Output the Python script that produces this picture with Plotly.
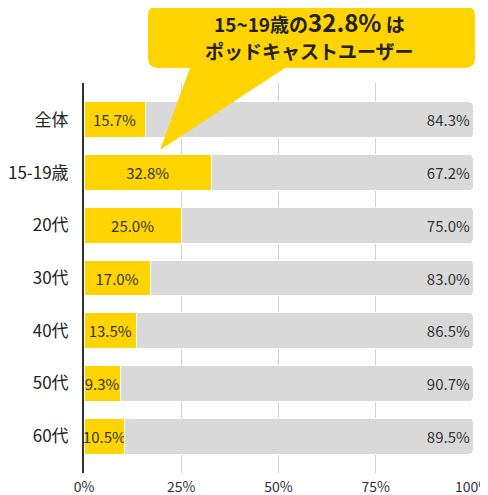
import plotly.graph_objects as go

categories = ["全体", "15-19歳", "20代", "30代", "40代", "50代", "60代"]
users = [15.7, 32.8, 25.0, 17.0, 13.5, 9.3, 10.5]
non_users = [84.3, 67.2, 75.0, 83.0, 86.5, 90.7, 89.5]
tick_vals = [0, 25, 50, 75, 100]
tick_text = ["0%", "25%", "50%", "75%", "100%"]

# the page puts the figure 8px in from the top-left corner
OFF = 8
W, H = 488 - OFF, 495 - OFF
L, R, T, B = 84 - OFF, 15, 83 - OFF, 22
PW, PH = W - L - R, H - T - B

YELLOW = "#FFD400"
GREY = "#D9D9D9"
FONT = "Noto Sans CJK JP"


def px(x, y):
    # window pixel position -> paper coords
    return (x - OFF - L) / PW, (H - B - (y - OFF)) / PH


def callout_path(x0, y0, x1, y1, r, base_a, base_b, tip):
    def p(x, y):
        a, b = px(x, y)
        return f"{a:.4f},{b:.4f}"

    pts = [
        "M" + p(x0 + r, y0),
        "L" + p(x1 - r, y0),
        "Q" + p(x1, y0) + " " + p(x1, y0 + r),
        "L" + p(x1, y1 - r),
        "Q" + p(x1, y1) + " " + p(x1 - r, y1),
        "L" + p(base_b, y1),
        "L" + p(*tip),
        "L" + p(base_a, y1),
        "L" + p(x0 + r, y1),
        "Q" + p(x0, y1) + " " + p(x0, y1 - r),
        "L" + p(x0, y0 + r),
        "Q" + p(x0, y0) + " " + p(x0 + r, y0),
    ]
    return " ".join(pts) + " Z"


fig = go.Figure()
fig.add_trace(
    go.Bar(
        y=categories,
        x=users,
        orientation="h",
        marker=dict(color=YELLOW, line=dict(color="white", width=1)),
        text=[f"{v:.1f}%" for v in users],
        textposition="inside",
        insidetextanchor="middle",
        constraintext="none",
        textfont=dict(family=FONT, size=15, color="#333333"),
        hoverinfo="skip",
    )
)
fig.add_trace(
    go.Bar(
        y=categories,
        x=non_users,
        orientation="h",
        marker=dict(color=GREY, line=dict(color="white", width=1)),
        text=[f"{v:.1f}%" for v in non_users],
        textposition="inside",
        insidetextanchor="end",
        constraintext="none",
        textfont=dict(family=FONT, size=15, color="#333333"),
        hoverinfo="skip",
    )
)

fig.add_shape(
    type="path",
    xref="paper",
    yref="paper",
    path=callout_path(148, 6, 475, 68, 10, 190, 285, (160, 150)),
    fillcolor=YELLOW,
    line=dict(width=0),
    layer="above",
)

for line_text, line_y in [
    ("<b>15~19歳の<span style='font-size:24px'>32.8%</span> は</b>", 22),
    ("<b>ポッドキャストユーザー</b>", 50),
]:
    ax, ay = px(309, line_y)
    fig.add_annotation(
        x=ax,
        y=ay,
        xref="paper",
        yref="paper",
        xanchor="center",
        yanchor="middle",
        showarrow=False,
        text=line_text,
        font=dict(family=FONT, size=19, color="#222222"),
    )

fig.update_layout(
    width=W,
    height=H,
    margin=dict(l=L, r=R, t=T, b=B, autoexpand=False),
    barmode="stack",
    bargap=0.32,
    barcornerradius=3,
    showlegend=False,
    plot_bgcolor="white",
    paper_bgcolor="white",
    font=dict(family=FONT, color="#333333"),
)
fig.update_xaxes(
    range=[0, 100],
    tickvals=tick_vals,
    ticktext=tick_text,
    showgrid=True,
    gridcolor="#D0D0D0",
    gridwidth=1,
    zeroline=False,
    automargin=False,
    ticklabeloverflow="allow",
    ticklabelstandoff=4,
    tickfont=dict(family=FONT, size=14, color="#333333"),
    fixedrange=True,
)
fig.update_yaxes(
    categoryorder="array",
    categoryarray=categories,
    range=[6.7, -0.7],
    showline=True,
    linecolor="#333333",
    linewidth=2,
    ticks="",
    ticklabelstandoff=10,
    automargin=False,
    tickfont=dict(family=FONT, size=17, color="#222222"),
    fixedrange=True,
)

fig.write_html("out.html")
